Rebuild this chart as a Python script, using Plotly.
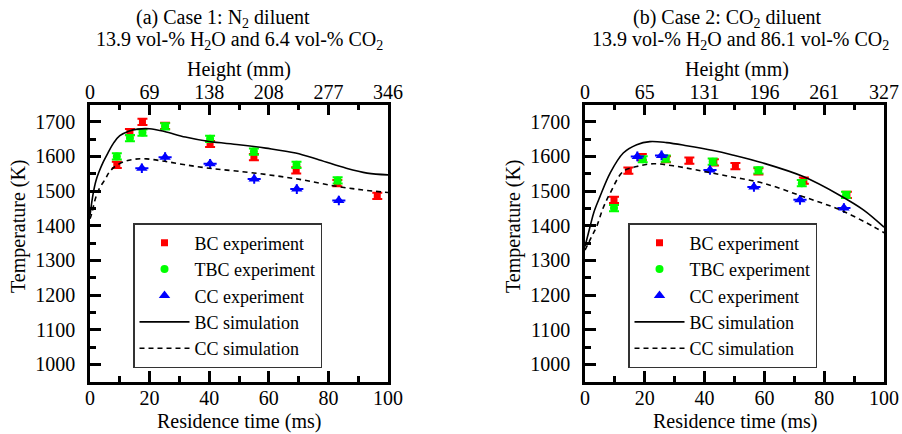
import plotly.graph_objects as go

# ---------------- data ----------------
time_ticks = [0, 20, 40, 60, 80, 100]
left_heights = ["0", "69", "138", "208", "277", "346"]
right_heights = ["0", "65", "131", "196", "261", "327"]

# Case 1 (N2 diluent)
left_bc_t = [9.0, 13.4, 17.6, 25.2, 40.3, 55.0, 69.2, 83.0, 96.4]
left_bc_T = [1576, 1670, 1700, 1688, 1636, 1598, 1560, 1523, 1486]
left_tbc_t = [9.0, 13.4, 17.6, 25.2, 40.3, 55.0, 69.3, 83.1]
left_tbc_T = [1600, 1653, 1669, 1687, 1651, 1614, 1576, 1531]
left_cc_t = [17.4, 25.2, 40.3, 55.1, 69.4, 83.5]
left_cc_T = [1566, 1598, 1579, 1535, 1506, 1473]
left_bcsim_t = [0, 1, 2, 3, 4.5, 6, 8, 10, 13, 16, 20, 25, 32, 40, 50, 59, 69, 77, 86, 93, 100]
left_bcsim_T = [1430, 1490, 1530, 1555, 1585, 1610, 1640, 1660, 1673, 1679, 1680, 1672, 1656,
                1643, 1634, 1624, 1610, 1590, 1566, 1552, 1547]
left_ccsim_t = [0, 0.6, 1.7, 3, 5, 6.5, 8.4, 11.7, 15, 19, 25, 32, 40, 49, 60, 71, 82, 91, 100]
left_ccsim_T = [1420, 1436, 1475, 1505, 1533, 1555, 1571, 1586, 1592, 1593, 1586, 1576, 1566,
                1558, 1547, 1533, 1515, 1504, 1496]

# Case 2 (CO2 diluent)
right_bc_t = [9.7, 14.5, 19.0, 27.1, 34.9, 43.1, 50.3, 58.0, 73.2, 87.6]
right_bc_T = [1475, 1559, 1598, 1592, 1588, 1583, 1572, 1557, 1530, 1489]
right_tbc_t = [9.7, 19.3, 27.0, 42.7, 58.0, 72.5, 87.3]
right_tbc_T = [1451, 1592, 1594, 1585, 1560, 1523, 1489]
right_cc_t = [17.5, 25.6, 41.8, 56.5, 71.9, 86.6]
right_cc_T = [1600, 1603, 1561, 1512, 1475, 1451]
right_bcsim_t = [0, 1.7, 3, 5, 8.4, 12.8, 17.3, 21.7, 27.3, 34, 42.9, 49, 59.6, 73, 85, 93.1, 100]
right_bcsim_T = [1340, 1398, 1440, 1484, 1552, 1610, 1634, 1643, 1640, 1631, 1617, 1605, 1581,
                 1542, 1489, 1446, 1396]
right_ccsim_t = [0, 2, 3.9, 6, 8.4, 12.8, 17.3, 22.9, 29.5, 37.4, 48.5, 59.6, 73, 85.3, 96.4, 100]
right_ccsim_T = [1330, 1365, 1398, 1450, 1494, 1557, 1571, 1579, 1573, 1561, 1542, 1523, 1484,
                 1446, 1398, 1380]

exp_err = 9  # K, symmetric error on experiments

# ---------------- style ----------------
FONT = "Liberation Serif"
RED, GREEN, BLUE = "#FF0000", "#00FF00", "#0000FF"
W, H = 902, 434

fig = go.Figure()


def add_panel(xa, xtopa, ya, leg, bc, tbc, cc, bcsim, ccsim):
    fig.add_trace(go.Scatter(
        x=bc[0], y=bc[1], mode="markers", name="BC experiment", legend=leg,
        xaxis=xa, yaxis=ya,
        marker=dict(symbol="square", size=7, color=RED),
        error_y=dict(type="constant", value=exp_err, color=RED, thickness=2, width=5)))
    fig.add_trace(go.Scatter(
        x=tbc[0], y=tbc[1], mode="markers", name="TBC experiment", legend=leg,
        xaxis=xa, yaxis=ya,
        marker=dict(symbol="circle", size=8, color=GREEN),
        error_y=dict(type="constant", value=exp_err, color=GREEN, thickness=2, width=5)))
    fig.add_trace(go.Scatter(
        x=cc[0], y=cc[1], mode="markers", name="CC experiment", legend=leg,
        xaxis=xa, yaxis=ya,
        marker=dict(symbol="triangle-up", size=10, color=BLUE),
        error_y=dict(type="constant", value=14, color=BLUE, thickness=2, width=0),
        error_x=dict(type="constant", value=2.2, color=BLUE, thickness=2, width=0)))
    fig.add_trace(go.Scatter(
        x=bcsim[0], y=bcsim[1], mode="lines", name="BC simulation", legend=leg,
        xaxis=xa, yaxis=ya, line=dict(color="black", width=1.6, shape="spline")))
    # drawn on the (identically scaled) top axis so that the height axis is rendered
    fig.add_trace(go.Scatter(
        x=ccsim[0], y=ccsim[1], mode="lines", name="CC simulation", legend=leg,
        xaxis=xtopa, yaxis=ya,
        line=dict(color="black", width=1.6, dash="5px,4px", shape="spline")))


add_panel("x", "x2", "y", "legend",
          (left_bc_t, left_bc_T), (left_tbc_t, left_tbc_T), (left_cc_t, left_cc_T),
          (left_bcsim_t, left_bcsim_T), (left_ccsim_t, left_ccsim_T))
add_panel("x3", "x4", "y2", "legend2",
          (right_bc_t, right_bc_T), (right_tbc_t, right_tbc_T), (right_cc_t, right_cc_T),
          (right_bcsim_t, right_bcsim_T), (right_ccsim_t, right_ccsim_T))

tickfont = dict(family=FONT, size=20, color="black")
ydom = [1 - 381.7 / H, 1 - 104.5 / H]
left_dom = [90 / W, 388 / W]
right_dom = [585 / W, 884 / W]


def xbottom(dom, anchor):
    return dict(domain=dom, anchor=anchor, range=[0, 100], tickvals=time_ticks,
                ticks="inside", ticklen=11, tickwidth=2.5, tickcolor="black",
                minor=dict(dtick=10, tick0=0, ticks="inside", ticklen=6, tickwidth=2.5,
                           tickcolor="black"),
                showline=True, linewidth=2.5, linecolor="black", mirror="ticks",
                showgrid=False, zeroline=False, tickfont=tickfont, ticklabelstandoff=-3,
                automargin=False)


def xtop(over, anchor, labels):
    return dict(overlaying=over, anchor=anchor, side="top", range=[0, 100],
                tickvals=time_ticks, ticktext=labels, ticks="", showline=False,
                showgrid=False, zeroline=False, tickfont=tickfont, ticklabelstandoff=1,
                automargin=False)


def yax(anchor):
    return dict(domain=ydom, anchor=anchor, range=[950, 1750],
                tickvals=[1000, 1100, 1200, 1300, 1400, 1500, 1600, 1700],
                ticks="inside", ticklen=11, tickwidth=2.5, tickcolor="black",
                minor=dict(tickvals=[1050, 1150, 1250, 1350, 1450, 1550, 1650],
                           ticks="inside", ticklen=6, tickwidth=2.5, tickcolor="black"),
                showline=True, linewidth=2.5, linecolor="black", mirror=True,
                showgrid=False, zeroline=False, tickfont=tickfont, ticklabelstandoff=8,
                automargin=False)


legend_style = dict(xanchor="left", yanchor="top", bgcolor="white",
                    bordercolor="#333333", borderwidth=1.5,
                    font=dict(family=FONT, size=18, color="black"),
                    itemwidth=50, tracegroupgap=0)

fig.update_layout(
    template=go.layout.Template(),
    width=W, height=H, margin=dict(l=0, r=0, t=0, b=0, autoexpand=False),
    paper_bgcolor="white", plot_bgcolor="white",
    font=dict(family=FONT, size=20, color="black"),
    xaxis=xbottom(left_dom, "y"),
    xaxis2=xtop("x", "y", left_heights),
    xaxis3=xbottom(right_dom, "y2"),
    xaxis4=xtop("x3", "y2", right_heights),
    yaxis=yax("x"),
    yaxis2=yax("x3"),
    legend=dict(x=133 / W, y=1 - 223 / H, **legend_style),
    legend2=dict(x=628 / W, y=1 - 223 / H, **legend_style),
)

ann_font = dict(family=FONT, size=20, color="black")


def ann(text, x, y, angle=0):
    fig.add_annotation(text=text, x=x / W, y=1 - y / H, xref="paper", yref="paper",
                       xanchor="center", yanchor="middle", showarrow=False,
                       font=ann_font, textangle=angle)


ann("(a) Case 1: N<sub>2</sub> diluent", 223, 18)
ann("13.9 vol-% H<sub>2</sub>O and 6.4 vol-% CO<sub>2</sub>", 239, 41)
ann("(b) Case 2: CO<sub>2</sub> diluent", 727, 18)
ann("13.9 vol-% H<sub>2</sub>O and 86.1 vol-% CO<sub>2</sub>", 740, 41)
ann("Height (mm)", 239, 70)
ann("Height (mm)", 737, 70)
ann("Residence time (ms)", 239, 421)
ann("Residence time (ms)", 735, 421)
ann("Temperature (K)", 19, 226, -90)
ann("Temperature (K)", 514, 226, -90)

fig.write_html("out.html", config={"displayModeBar": False},
               post_script="document.body.style.margin='0px';document.body.style.padding='0px';")
